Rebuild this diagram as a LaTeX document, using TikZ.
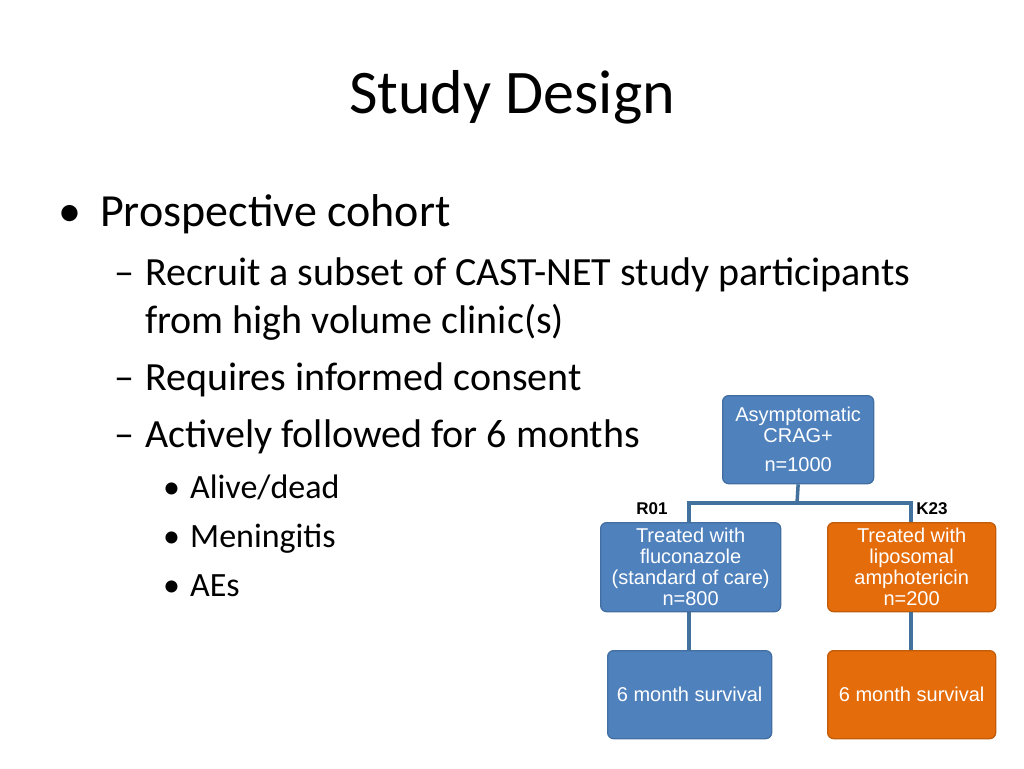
\documentclass[tikz,border=0pt]{standalone}
\usepackage{fontspec}
\setmainfont{Carlito}
\newfontfamily\boxfont{Liberation Sans}
\definecolor{bblue}{HTML}{4F81BD}
\definecolor{borange}{HTML}{E46C0A}
\definecolor{lineblue}{HTML}{41719C}
\begin{document}
\begin{tikzpicture}[x=1pt,y=-1pt,
  bx/.style={draw=#1!85!black,fill=#1,rounded corners=6pt,line width=1.3pt,text=white,
    font=\boxfont\fontsize{20}{21}\selectfont,align=center,anchor=north west,inner sep=0pt},
  conn/.style={draw=lineblue,line width=3.5pt},
  txt/.style={anchor=base west,inner sep=0pt},
  l1/.style={txt,font=\fontsize{46}{50}\selectfont},
  l2/.style={txt,font=\fontsize{40}{44}\selectfont},
  l3/.style={txt,font=\fontsize{34}{38}\selectfont}]
\useasboundingbox (0,0) rectangle (1024,768);
\node[font=\fontsize{62}{66}\selectfont] (title) at (512,97) {Study Design};
\node[l1] (d1) at (58,226) {•};
\node[l1] (b1) at (100,226) {Prospective cohort};
\node[l2] (d2) at (114,285) {–};
\node[l2] (s1) at (145,285) {Recruit a subset of CAST-NET study participants};
\node[l2] (s1b) at (145,333) {from high volume clinic(s)};
\node[l2] (d3) at (114,390) {–};
\node[l2] (s2) at (145,390) {Requires informed consent};
\node[l2] (d4) at (114,447) {–};
\node[l2] (s3) at (145,447) {Actively followed for 6 months};
\node[l3] (e1) at (163,498) {•};
\node[l3] (t1) at (190,498) {Alive/dead};
\node[l3] (e2) at (163,547) {•};
\node[l3] (t2) at (190,547) {Meningitis};
\node[l3] (e3) at (163,596) {•};
\node[l3] (t3) at (190,596) {AEs};

\node[bx=bblue,minimum width=151pt,minimum height=88pt] (top) at (722,395) {Asymptomatic\\CRAG+\\[8pt]n=1000};
\node[bx=bblue,minimum width=180pt,minimum height=89pt] (lm) at (600,522) {Treated with\\fluconazole\\(standard of care)\\n=800};
\node[bx=borange,minimum width=168pt,minimum height=89pt] (rm) at (827,522) {Treated with\\liposomal\\amphotericin\\n=200};
\node[bx=bblue,minimum width=164pt,minimum height=88pt] (lb) at (607,650) {6 month survival};
\node[bx=borange,minimum width=168pt,minimum height=88pt] (rb) at (827,650) {6 month survival};
\coordinate (j) at (797,503);
\draw[conn] (top.south) -- (j);
\draw[conn] (lm.north -| 689,0) |- (j) -| (rm.north -| 911,0);
\draw[conn] (lm.south -| 689,0) -- (lb.north -| 689,0);
\draw[conn] (rm.south -| 911,0) -- (rb.north -| 911,0);
\node[font=\boxfont\bfseries\fontsize{17}{19}\selectfont] (r01) at (652,509) {R01};
\node[font=\boxfont\bfseries\fontsize{17}{19}\selectfont] (k23) at (932,509) {K23};
\end{tikzpicture}
\end{document}
